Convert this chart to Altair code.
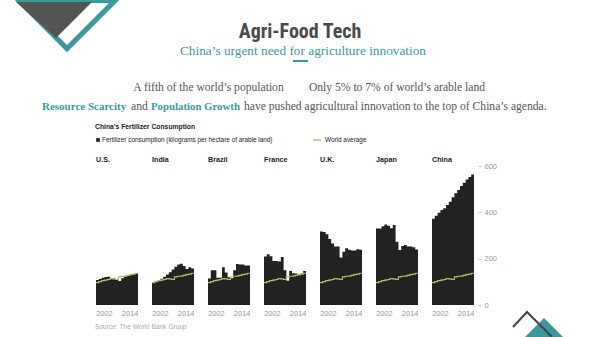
import altair as alt
import pandas as pd

countries = ["U.S.", "India", "Brazil", "France", "U.K.", "Japan", "China"]
years = list(range(2002, 2017))
us = [108, 112, 118, 121, 122, 117, 114, 108, 104, 116, 124, 130, 133, 134, 137]
india = [98, 100, 106, 113, 122, 132, 141, 153, 165, 175, 178, 168, 155, 163, 158]
brazil = [114, 150, 150, 118, 118, 163, 140, 120, 116, 150, 177, 175, 175, 170, 170]
france = [209, 219, 210, 190, 190, 188, 207, 150, 105, 147, 137, 136, 134, 136, 147]
uk = [317, 315, 305, 285, 265, 252, 252, 205, 230, 245, 238, 235, 235, 241, 238]
japan = [330, 330, 340, 348, 342, 331, 345, 273, 237, 255, 259, 252, 252, 249, 240]
china = [372, 385, 398, 410, 418, 432, 446, 465, 482, 496, 514, 528, 542, 552, 563]
world = [97, 101, 105, 107, 110, 114, 113, 110, 121, 124, 125, 128, 131, 133, 137]
x_labels = ["2002", "2014"]
y_ticks = [0, 200, 400, 600]
series = [us, india, brazil, france, uk, japan, china]

TEAL = "#3a9a9b"
GRAY = "#555555"
BAR = "#222222"
GREEN = "#a9c46b"
SANS = "Liberation Sans, Arial, sans-serif"
SERIF = "Liberation Serif, serif"

# plot area placement (pixels in page)
OX, OY, W, H = 96, 166, 378, 139
GAP = 5  # empty years between panels

rows = []
for ci, (c, vals) in enumerate(zip(countries, series)):
    n = len(vals)
    for j in range(n + 1):
        k = min(j, n - 1)
        rows.append(dict(country=c, year=years[0] + j, value=vals[k],
                         world=world[k], pos=ci * (n + GAP) + j))
df = pd.DataFrame(rows)
n = len(years)
total = (len(countries) - 1) * (n + GAP) + n

lab_rows = []
for ci, c in enumerate(countries):
    lab_rows.append(dict(country=c, label=x_labels[0], pos=ci * (n + GAP) + 3.0))
    lab_rows.append(dict(country=c, label=x_labels[1], pos=ci * (n + GAP) + 12.2))
labels_df = pd.DataFrame(lab_rows)
names_df = pd.DataFrame({"country": countries,
                         "pos": [ci * (n + GAP) for ci in range(len(countries))]})

xs = alt.Scale(domain=[0, total], nice=False, zero=False)
ys = alt.Scale(domain=[0, 600], nice=False)

area = alt.Chart(df).mark_area(interpolate="step-after", color=BAR, opacity=1).encode(
    x=alt.X("pos:Q", scale=xs, axis=None),
    y=alt.Y("value:Q", scale=ys, stack=False, axis=alt.Axis(
        orient="right", values=y_ticks, title=None, domain=False, grid=False,
        offset=4, tickSize=3, tickColor="#cccccc", labelColor="#9a9a9a",
        labelFontSize=7.5, labelPadding=3, labelFont=SANS)),
    detail="country:N",
)
line = alt.Chart(df).mark_line(interpolate="step-after", color=GREEN, strokeWidth=1.2).encode(
    x=alt.X("pos:Q", scale=xs, axis=None), y=alt.Y("world:Q", scale=ys), detail="country:N")
year_labels = alt.Chart(labels_df).mark_text(
    fontSize=7.5, color="#9a9a9a", font=SANS, baseline="middle").encode(
    x=alt.X("pos:Q", scale=xs, axis=None), y=alt.value(314 - OY), text="label:N")
country_names = alt.Chart(names_df).mark_text(
    fontSize=7.2, color="#222", fontWeight="bold", font=SANS, align="left",
    baseline="middle").encode(
    x=alt.X("pos:Q", scale=xs, axis=None), y=alt.value(160 - OY), text="country:N")


def txt(t, x, y, size, color="#222", weight="normal", font=SANS, align="left"):
    return alt.Chart(pd.DataFrame({"t": [t]})).mark_text(
        fontSize=size, color=color, fontWeight=weight, font=font, align=align,
        baseline="middle").encode(text="t:N", x=alt.value(x - OX), y=alt.value(y - OY))


def shape(path, cx, cy, size, fill=None, stroke=None, sw=0):
    kw = dict(shape=path, size=size, opacity=1)
    if fill:
        kw.update(filled=True, fill=fill, strokeWidth=0)
    else:
        kw.update(filled=False, stroke=stroke, strokeWidth=sw)
    return alt.Chart(pd.DataFrame({"a": [0]})).mark_point(**kw).encode(
        x=alt.value(cx - OX), y=alt.value(cy - OY))


DOWN = "M-1,-0.5L1,-0.5L0,0.5Z"
UP = "M-1,0.5L1,0.5L0,-0.5Z"
layers = [
    shape(DOWN, 67, 26, 11025, fill=TEAL),
    shape(DOWN, 67, 24, 7056, fill="white"),
    shape("M-1,-0.474L1,-0.474L0.053,0.474Z", 54, 20, 5776, fill="#545454"),
    shape(UP, 544, 329, 1936, fill=TEAL),
    shape("M-0.975,0.125L-0.275,-0.625L0.975,0.625", 532.5, 324.5, 1600, stroke="#444", sw=2),
    txt("Agri-Food Tech", 300, 32, 20, color="#4a4a4a", weight="bold",
        font="Liberation Sans Narrow, Roboto Condensed, Roboto, sans-serif", align="center"),
    txt("China’s urgent need for agriculture innovation", 303, 51, 13.3, color=TEAL,
        font=SERIF, align="center"),
    alt.Chart(pd.DataFrame({"a": [0]})).mark_rule(color=TEAL, strokeWidth=2).encode(
        x=alt.value(293 - OX), x2=alt.value(308 - OX), y=alt.value(61 - OY)),
    txt("A fifth of the world’s population", 208.5, 88, 11.6, color=GRAY, font=SERIF, align="center"),
    txt("Only 5% to 7% of world’s arable land", 397, 88, 11.6, color=GRAY, font=SERIF, align="center"),
    txt("Resource Scarcity", 42, 107, 11, color=TEAL, weight="bold", font=SERIF),
    txt("and", 131, 107, 11.6, color=GRAY, font=SERIF),
    txt("Population Growth", 151, 107, 10.8, color=TEAL, weight="bold", font=SERIF),
    txt("have pushed agricultural innovation to the top of China’s agenda.", 244, 107, 11.6,
        color=GRAY, font=SERIF),
    txt("China's Fertilizer Consumption", 95, 127, 6.8, weight="bold"),
    alt.Chart(pd.DataFrame({"a": [0]})).mark_square(size=14, color=BAR, opacity=1).encode(
        x=alt.value(98 - OX), y=alt.value(140 - OY)),
    txt("Fertilizer consumption (kilograms per hectare of arable land)", 102, 140, 6.4),
    alt.Chart(pd.DataFrame({"a": [0]})).mark_rule(color=GREEN, strokeWidth=1.5).encode(
        x=alt.value(313 - OX), x2=alt.value(321 - OX), y=alt.value(140 - OY)),
    txt("World average", 325, 140, 6.4),
    txt("Source: The World Bank Group", 95, 327, 6.6, color="#aaaaaa"),
]

chart = alt.layer(area, line, year_labels, country_names, *layers).properties(
    width=W, height=H,
    padding={"left": OX, "top": OY, "right": 600 - OX - W, "bottom": 337 - OY - H},
    autosize=alt.AutoSizeParams(type="none"),
    background="white",
).configure_view(strokeWidth=0)

chart.save("out.html", embed_options={"renderer": "svg", "actions": False})
